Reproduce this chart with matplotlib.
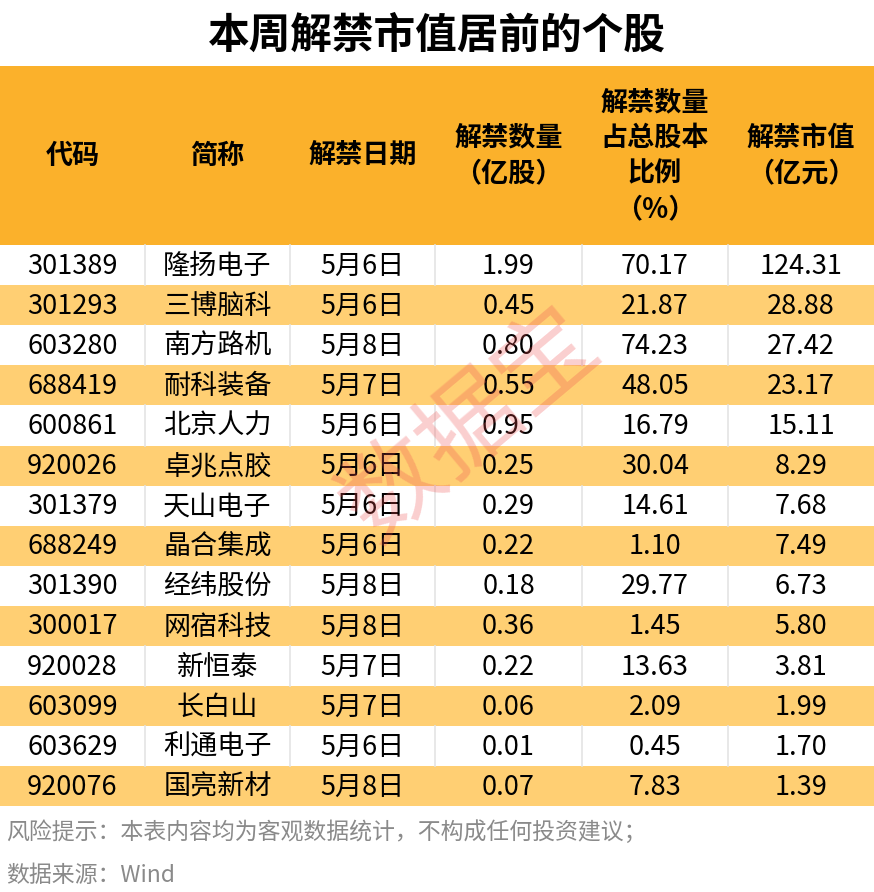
import matplotlib.pyplot as plt
import matplotlib.patches as patches

plt.rcParams['font.family'] = ['Noto Sans CJK SC', 'DejaVu Sans']

W, H = 874, 892

title = '本周解禁市值居前的个股'
headers = ['代码', '简称', '解禁日期', '解禁数量\n（亿股）', '解禁数量\n占总股本\n比例\n（%）', '解禁市值\n（亿元）']
codes = ['301389', '301293', '603280', '688419', '600861', '920026', '301379',
         '688249', '301390', '300017', '920028', '603099', '603629', '920076']
names = ['隆扬电子', '三博脑科', '南方路机', '耐科装备', '北京人力', '卓兆点胶', '天山电子',
         '晶合集成', '经纬股份', '网宿科技', '新恒泰', '长白山', '利通电子', '国亮新材']
dates = ['5月6日', '5月6日', '5月8日', '5月7日', '5月6日', '5月6日', '5月6日',
         '5月6日', '5月8日', '5月8日', '5月7日', '5月7日', '5月6日', '5月8日']
shares = ['1.99', '0.45', '0.80', '0.55', '0.95', '0.25', '0.29',
          '0.22', '0.18', '0.36', '0.22', '0.06', '0.01', '0.07']
ratio = ['70.17', '21.87', '74.23', '48.05', '16.79', '30.04', '14.61',
         '1.10', '29.77', '1.45', '13.63', '2.09', '0.45', '7.83']
value = ['124.31', '28.88', '27.42', '23.17', '15.11', '8.29', '7.68',
         '7.49', '6.73', '5.80', '3.81', '1.99', '1.70', '1.39']
notes = ['风险提示：本表内容均为客观数据统计，不构成任何投资建议；', '数据来源：Wind']

col_edges = [0, 145, 290, 435, 582, 728, 874]
head_top, head_bot = 66, 245
row_h = 40.1

fig = plt.figure(figsize=(W / 100, H / 100), dpi=100)
ax = fig.add_axes([0, 0, 1, 1])
ax.set_xlim(0, W)
ax.set_ylim(H, 0)
ax.axis('off')

ax.text(W / 2, 36, title, ha='center', va='center', fontsize=30, fontweight='bold')

ax.add_patch(patches.Rectangle((0, head_top), W, head_bot - head_top, color='#FBB12B', lw=0))
for i, h in enumerate(headers):
    cx = (col_edges[i] + col_edges[i + 1]) / 2
    ax.text(cx, (head_top + head_bot) / 2, h, ha='center', va='center',
            fontsize=19.5, fontweight='bold', linespacing=1.35)

cols = [codes, names, dates, shares, ratio, value]
for r in range(len(codes)):
    y0 = head_bot + r * row_h
    if r % 2 == 1:
        ax.add_patch(patches.Rectangle((0, y0), W, row_h, color='#FFCF73', lw=0))
    else:
        for x in col_edges[1:-1]:
            ax.plot([x, x], [y0, y0 + row_h], color='#E4E4E4', lw=1.2)
    for i, c in enumerate(cols):
        cx = (col_edges[i] + col_edges[i + 1]) / 2
        ax.text(cx, y0 + row_h / 2 + 1, c[r], ha='center', va='center', fontsize=19.5)

ax.text(470, 425, '数据宝', ha='center', va='center', fontsize=72,
        color='#F05050', alpha=0.28, rotation=40)

ax.text(6, 832, notes[0], ha='left', va='center', fontsize=16.5, color='#8A8A8A')
ax.text(6, 875, notes[1], ha='left', va='center', fontsize=16.5, color='#8A8A8A')

fig.savefig('out.png', dpi=100)
